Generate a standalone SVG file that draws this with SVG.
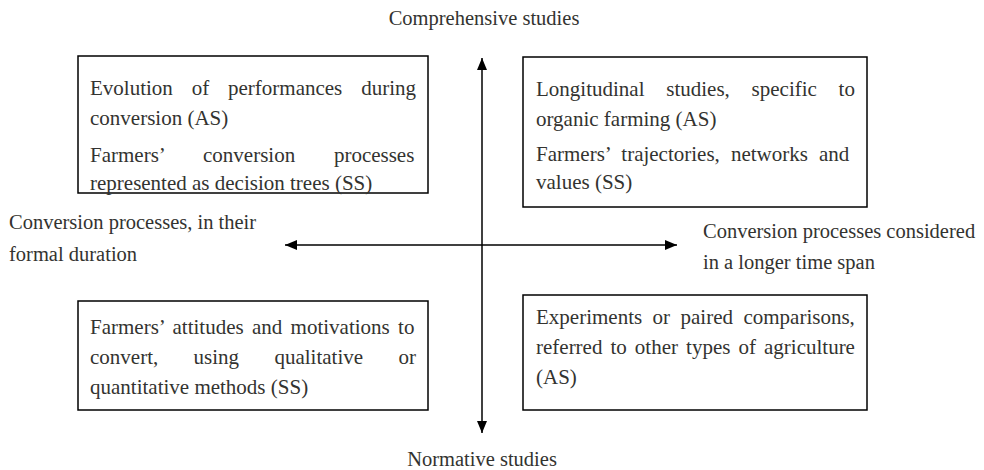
<svg xmlns="http://www.w3.org/2000/svg" width="984" height="470" viewBox="0 0 984 470">
<style>
  text { font-family: "Liberation Serif", "Times New Roman", serif; font-size: 21px; fill: #333330; }
  .lbl { font-size: 20.5px; }
  .box { fill: #ffffff; stroke: #000000; stroke-width: 1.5; }
  .axis { stroke: #000000; stroke-width: 1.5; fill: none; }
</style>
<defs>
  <marker id="ah" viewBox="0 0 12 10" refX="12" refY="5" markerWidth="12" markerHeight="10" markerUnits="userSpaceOnUse" orient="auto-start-reverse">
    <path d="M0,0 L12,5 L0,10 z" fill="#000"/>
  </marker>
</defs>
<rect width="984" height="470" fill="#ffffff"/>

<g id="connectors">
  <line class="axis" x1="482" y1="58" x2="482" y2="433" marker-start="url(#ah)" marker-end="url(#ah)"/>
  <line class="axis" x1="285" y1="245" x2="677" y2="245" marker-start="url(#ah)" marker-end="url(#ah)"/>
</g>

<g id="label-top"><text class="lbl" x="484" y="25" text-anchor="middle">Comprehensive studies</text></g>
<g id="label-bottom"><text class="lbl" x="482" y="466" text-anchor="middle">Normative studies</text></g>
<g id="label-left">
  <text class="lbl" x="9" y="229">Conversion processes, in their</text>
  <text class="lbl" x="9" y="261">formal duration</text>
</g>
<g id="label-right">
  <text class="lbl" x="703" y="238">Conversion processes considered</text>
  <text class="lbl" x="703" y="269">in a longer time span</text>
</g>

<g id="box-top-left">
  <rect class="box" x="78" y="56" width="350" height="137"/>
  <text x="90" y="95" word-spacing="13.6">Evolution of performances during</text>
  <text x="90" y="125">conversion (AS)</text>
  <text x="90" y="162" word-spacing="33.5">Farmers’ conversion processes</text>
  <text x="90" y="190">represented as decision trees (SS)</text>
</g>

<g id="box-top-right">
  <rect class="box" x="523" y="57" width="344" height="150"/>
  <text x="536" y="96" word-spacing="16.5">Longitudinal studies, specific to</text>
  <text x="536" y="126">organic farming (AS)</text>
  <text x="536" y="161" word-spacing="5.8">Farmers’ trajectories, networks and</text>
  <text x="536" y="189">values (SS)</text>
</g>

<g id="box-bottom-left">
  <rect class="box" x="78" y="301" width="350" height="109"/>
  <text x="90" y="334" word-spacing="3.05">Farmers’ attitudes and motivations to</text>
  <text x="90" y="364" word-spacing="30.1">convert, using qualitative or</text>
  <text x="90" y="394">quantitative methods (SS)</text>
</g>

<g id="box-bottom-right">
  <rect class="box" x="523" y="295" width="344" height="115"/>
  <text x="536" y="324" word-spacing="5.2">Experiments or paired comparisons,</text>
  <text x="536" y="354" word-spacing="2.8">referred to other types of agriculture</text>
  <text x="536" y="384">(AS)</text>
</g>
</svg>
